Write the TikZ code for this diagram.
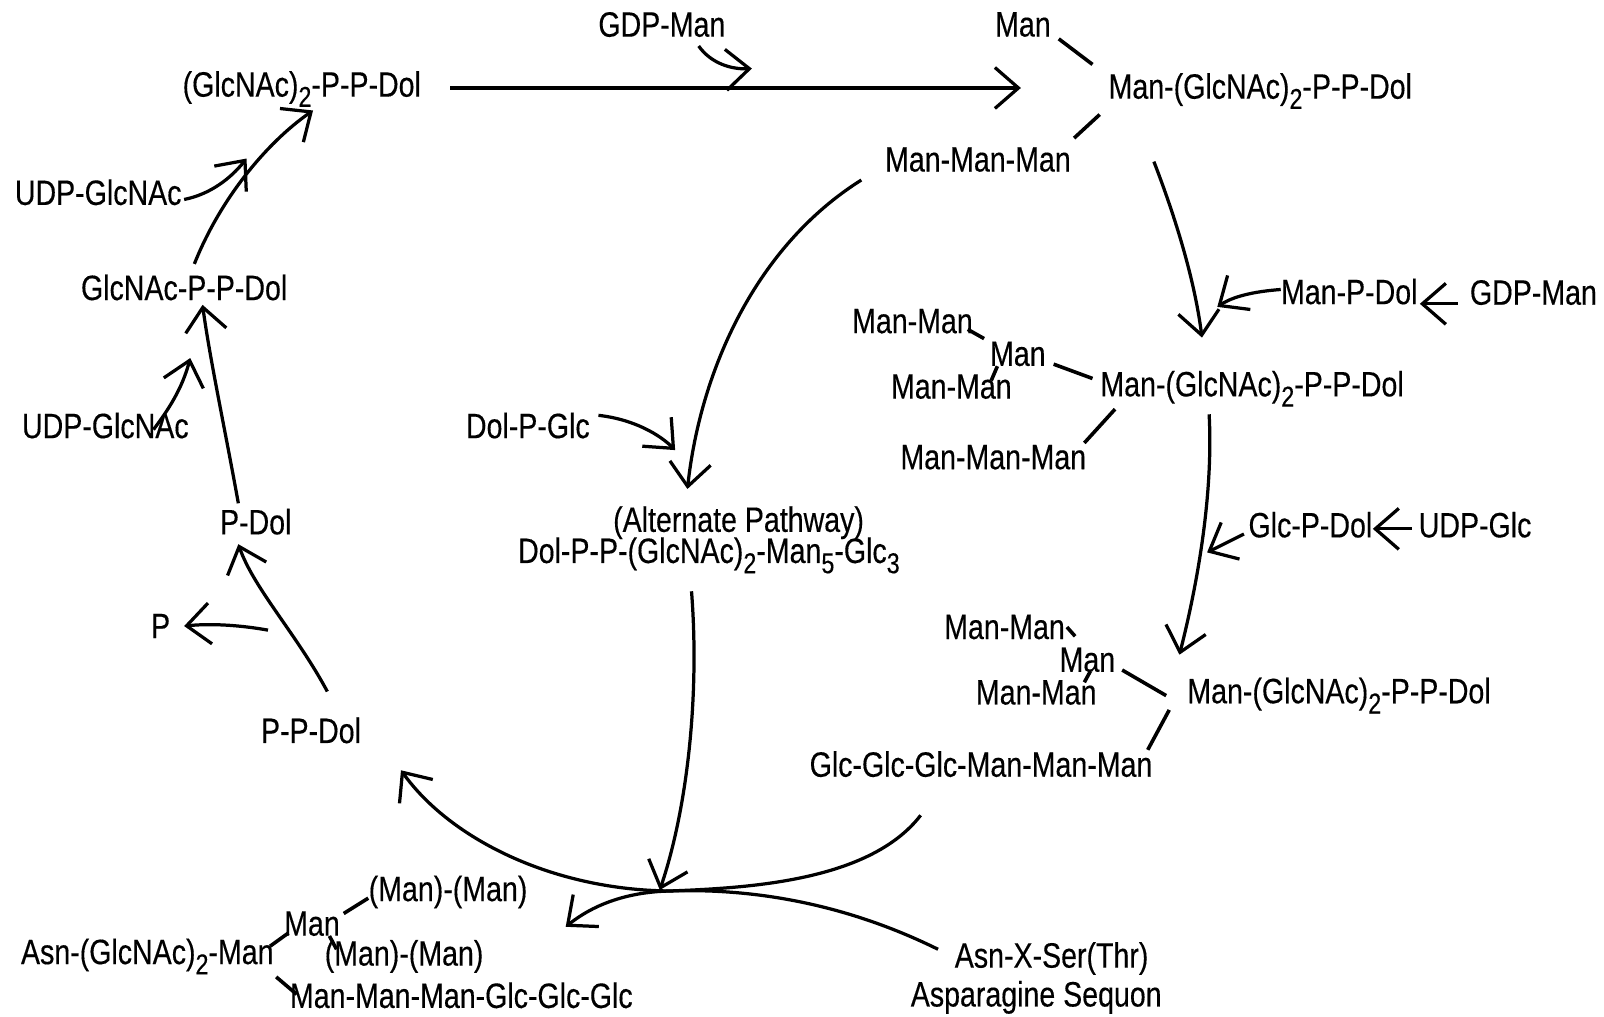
\documentclass[tikz,border=0pt]{standalone}
\usepackage{fontspec}
\setmainfont{Liberation Sans}[FakeStretch=0.81,FakeBold=0.3]
\usetikzlibrary{arrows.meta}
\newcommand\lo[1]{\raisebox{-0.55ex}{\fontsize{8}{8}\selectfont#1}}

\begin{document}
\begin{tikzpicture}[x=0.01cm, y=-0.01cm, line width=0.9pt,
  every node/.style={inner sep=1pt, font=\fontsize{9.8}{11}\selectfont},
  arr/.style={-{Straight Barb[length=2.3mm,width=4mm]}},
  lnk/.style={line width=1pt}]
  \useasboundingbox (0,0) rectangle (1568,994);
  \node (gn2) at (295,87) {(GlcNAc)\lo{2}-P-P-Dol};
  \node (gdp1) at (647,24) {GDP-Man};
  \node (man1) at (1000,24) {Man};
  \node (m1) at (1232,89) {Man-(GlcNAc)\lo{2}-P-P-Dol};
  \node (mmm1) at (956,156) {Man-Man-Man};
  \node (mpd) at (1319,285) {Man-P-Dol};
  \node (gdp2) at (1499,286) {GDP-Man};
  \node (mm2a) at (892,314) {Man-Man};
  \node (man2) at (995,346) {Man};
  \node (mm2b) at (930,378) {Man-Man};
  \node (m2) at (1224,380) {Man-(GlcNAc)\lo{2}-P-P-Dol};
  \node (mmm2) at (971,447) {Man-Man-Man};
  \node (gpd) at (1281,513) {Glc-P-Dol};
  \node (udpg) at (1442,513) {UDP-Glc};
  \node (mm3a) at (982,613) {Man-Man};
  \node (man3) at (1063,645) {Man};
  \node (mm3b) at (1013,677) {Man-Man};
  \node (m3) at (1309,680) {Man-(GlcNAc)\lo{2}-P-P-Dol};
  \node (ggg) at (959,747) {Glc-Glc-Glc-Man-Man-Man};
  \node (alt) at (722,511) {(Alternate Pathway)};
  \node (dpp) at (693,543) {Dol-P-P-(GlcNAc)\lo{2}-Man\lo{5}-Glc\lo{3}};
  \node (dpg) at (516,416) {Dol-P-Glc};
  \node (ppd) at (304,714) {P-P-Dol};
  \node (p) at (157,612) {P};
  \node (pd) at (250,510) {P-Dol};
  \node (udp1) at (103,416) {UDP-GlcNAc};
  \node (gnp) at (180,281) {GlcNAc-P-P-Dol};
  \node (udp2) at (96,188) {UDP-GlcNAc};
  \node (asn) at (144,935) {Asn-(GlcNAc)\lo{2}-Man};
  \node (man4) at (305,903) {Man};
  \node (mm4a) at (438,872) {(Man)-(Man)};
  \node (mm4b) at (395,935) {(Man)-(Man)};
  \node (mmg) at (451,973) {Man-Man-Man-Glc-Glc-Glc};
  \node (axs) at (1028,937) {Asn-X-Ser(Thr)};
  \node (seq) at (1013,975) {Asparagine Sequon};
  \foreach \n/\x/\y in {t1/440/86, t2/998/86, g1/683/45, g2/735/67,
      k1/1035/38, k2/1068/63, k3/1075/112, k4/1050/135,
      d1/842/176, d2/672/478, r1/1128/158, r2/1175/330,
      mp1/1252/283, mp2/1190/300, gd1/1425/297, gd2/1388/297,
      k5/946/322, k6/962/331, k7/975/358, k8/969/372,
      k9/1030/356, k10/1068/370, k11/1090/400, k12/1060/433,
      r3/1182/405, r4/1153/640, gp1/1216/522, gp2/1180/540,
      ug1/1380/517, ug2/1342/517, k13/1043/613, k14/1051/622,
      k15/1066/656, k16/1060/667, k17/1097/655, k18/1140/680,
      k19/1143/694, k20/1122/733, dg1/585/406, dg2/660/440,
      a1/676/578, a2/645/870, c0/655/871, b1/900/797, b2/553/906,
      s1/917/928, s2/392/753, l1/320/676, l2/233/532,
      p1/262/616, p2/180/612, l3/233/492, l4/198/298,
      u1/150/420, u2/186/350, l5/190/258, l6/306/108,
      u3/180/195, u4/241/155, k21/336/893, k22/360/878,
      k23/264/925, k24/282/912, k25/322/915, k26/329/928,
      k27/270/955, k28/290/972}
    \coordinate (\n) at (\x,\y);
  \draw[arr] (t1) -- (t2);
  \draw[arr] (g1) .. controls (695,62) and (715,68) .. (g2);
  \draw[lnk] (k1) -- (k2);
  \draw[lnk] (k3) -- (k4);
  \draw[arr] (d1) .. controls (740,240) and (685,360) .. (d2);
  \draw[arr] (r1) .. controls (1150,215) and (1168,275) .. (r2);
  \draw[arr] (mp1) .. controls (1225,285) and (1205,290) .. (mp2);
  \draw[arr] (gd1) -- (gd2);
  \draw[lnk] (k5) -- (k6);
  \draw[lnk] (k7) -- (k8);
  \draw[lnk] (k9) -- (k10);
  \draw[lnk] (k11) -- (k12);
  \draw[arr] (r3) .. controls (1186,480) and (1172,565) .. (r4);
  \draw[arr] (gp1) -- (gp2);
  \draw[arr] (ug1) -- (ug2);
  \draw[lnk] (k13) -- (k14);
  \draw[lnk] (k15) -- (k16);
  \draw[lnk] (k17) -- (k18);
  \draw[lnk] (k19) -- (k20);
  \draw[arr] (dg1) .. controls (620,410) and (645,425) .. (dg2);
  \draw[arr] (a1) .. controls (684,680) and (672,790) .. (a2);
  \draw[arr] (b1) .. controls (850,862) and (730,868) .. (c0) .. controls (610,872) and (578,886) .. (b2);
  \draw[arr] (s1) .. controls (830,885) and (740,868) .. (c0) .. controls (540,870) and (440,820) .. (s2);
  \draw[arr] (l1) .. controls (290,620) and (248,575) .. (l2);
  \draw[arr] (p1) .. controls (240,612) and (210,609) .. (p2);
  \draw[arr] (l3) .. controls (220,420) and (205,350) .. (l4);
  \draw[arr] (u1) .. controls (165,400) and (178,380) .. (u2);
  \draw[arr] (l5) .. controls (215,195) and (260,140) .. (l6);
  \draw[arr] (u3) .. controls (205,190) and (225,175) .. (u4);
  \draw[lnk] (k21) -- (k22);
  \draw[lnk] (k23) -- (k24);
  \draw[lnk] (k25) -- (k26);
  \draw[lnk] (k27) -- (k28);
\end{tikzpicture}
\end{document}
